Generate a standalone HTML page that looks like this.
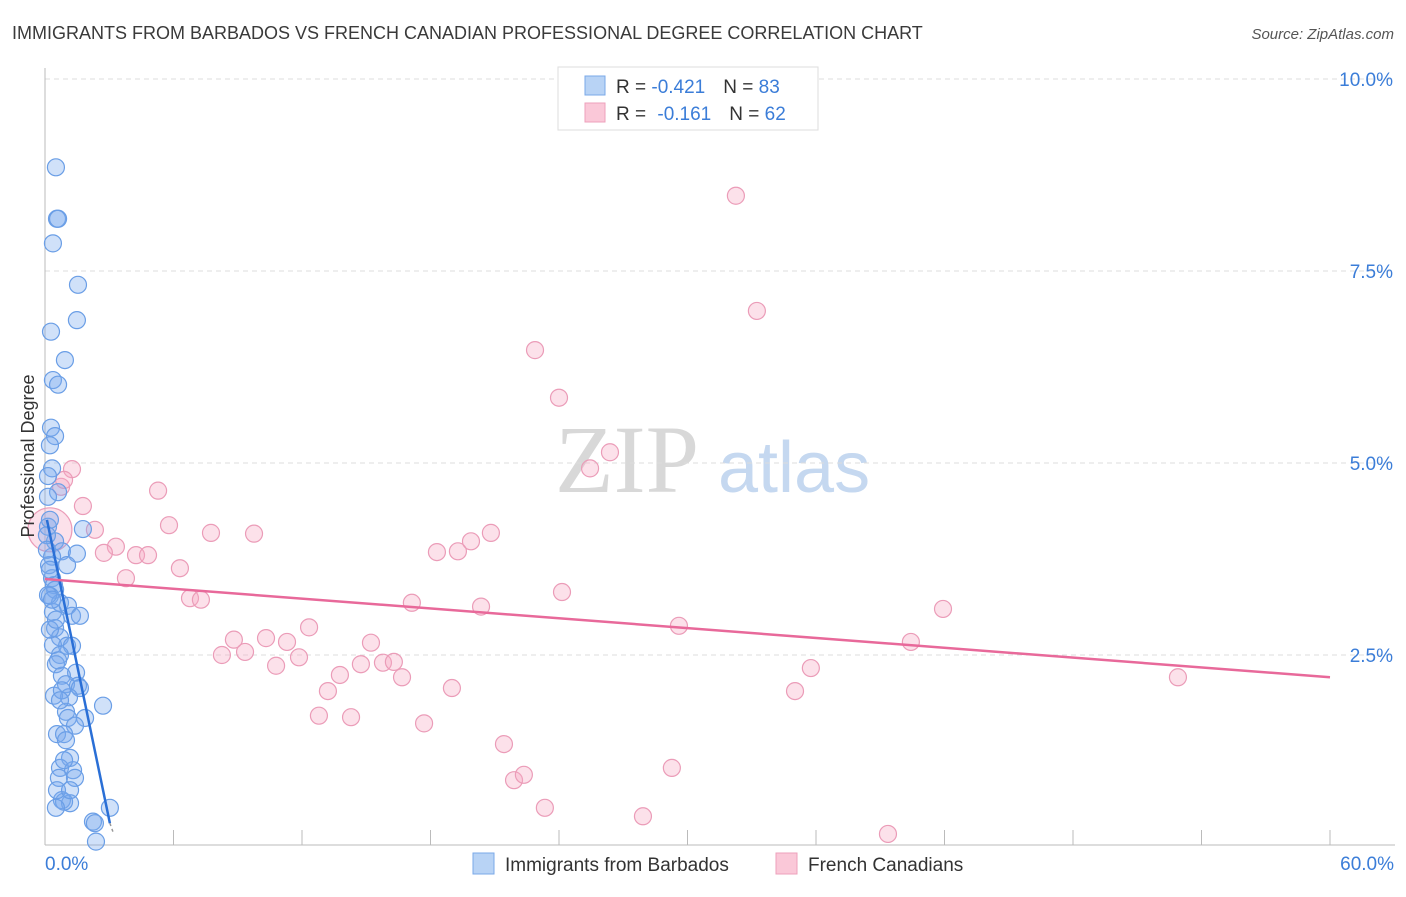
<!DOCTYPE html>
<html><head><meta charset="utf-8"><style>
body{margin:0;background:#fff;font-family:"Liberation Sans",sans-serif}
svg text{font-family:"Liberation Sans",sans-serif}
</style></head><body>
<svg id="chart" width="1406" height="892" viewBox="0 0 1406 892" xmlns="http://www.w3.org/2000/svg">
<text x="12" y="39" font-size="18" fill="#3a3a3a">IMMIGRANTS FROM BARBADOS VS FRENCH CANADIAN PROFESSIONAL DEGREE CORRELATION CHART</text>
<text x="1394" y="39" font-size="15" fill="#555" text-anchor="end" font-style="italic">Source: ZipAtlas.com</text>
<g>
<text x="555" y="492" font-size="96" fill="#d8d8d8" font-family="Liberation Serif" style="font-family:'Liberation Serif',serif">ZIP</text>
<text x="718" y="492" font-size="72" fill="#c5d8f0">atlas</text>
</g>
<g id="grid"></g>
<g id="axes"></g>
<g id="marks"></g>
<text transform="translate(34,456) rotate(-90)" font-size="18" fill="#333" text-anchor="middle">Professional Degree</text>
<g>
<rect x="558" y="67" width="260" height="63" fill="#fff" stroke="#ddd"/>
<rect x="585" y="76" width="20" height="19" fill="#b8d3f5" stroke="#7aa8e8"/>
<rect x="585" y="103" width="20" height="19" fill="#fac8d8" stroke="#eea0bb"/>
<text x="616" y="93" font-size="19" fill="#333">R = <tspan fill="#3b7dd8">-0.421</tspan><tspan dx="18">N = </tspan><tspan fill="#3b7dd8">83</tspan></text>
<text x="616" y="120" font-size="19" fill="#333">R = <tspan dx="6" fill="#3b7dd8">-0.161</tspan><tspan dx="18">N = </tspan><tspan fill="#3b7dd8">62</tspan></text>
</g>
<g>
<rect x="473" y="853" width="21" height="21" fill="#b8d3f5" stroke="#7aa8e8"/>
<text x="505" y="871" font-size="19" fill="#333">Immigrants from Barbados</text>
<rect x="776" y="853" width="21" height="21" fill="#fac8d8" stroke="#eea0bb"/>
<text x="808" y="871" font-size="19" fill="#333">French Canadians</text>
</g>
</svg>
<script>
const yTicks=[2.5,5.0,7.5,10.0];
const yTickLabels=["2.5%","5.0%","7.5%","10.0%"];
const xTicks=[0,6,12,18,24,30,36,42,48,54,60];
const xEndLabels=["0.0%","60.0%"];
const blueX=[0.51,0.56,0.61,0.37,1.54,1.49,0.28,0.93,0.37,0.61,0.28,0.47,0.23,0.33,0.14,0.61,0.14,1.77,0.14,0.47,0.79,1.49,0.33,0.19,1.03,0.33,0.42,0.47,0.23,0.70,1.07,0.37,1.26,1.63,0.47,0.70,1.03,0.37,1.26,0.70,0.51,1.45,0.79,0.98,1.54,1.63,1.12,0.42,2.71,0.98,1.07,1.87,1.40,0.56,0.89,1.17,0.70,1.31,0.65,1.40,0.79,1.17,0.89,0.51,3.03,2.24,2.33,2.38,0.14,0.33,0.23,0.09,0.09,0.23,0.61,0.79,0.23,0.51,0.70,0.98,0.89,0.56,1.17];
const blueY=[8.85,8.18,8.18,7.86,7.32,6.86,6.71,6.34,6.08,6.02,5.46,5.35,5.23,4.93,4.83,4.62,4.56,4.14,4.17,3.98,3.85,3.82,3.78,3.67,3.67,3.50,3.41,3.35,3.27,3.18,3.14,3.06,3.01,3.01,2.85,2.73,2.62,2.63,2.62,2.50,2.38,2.27,2.23,2.12,2.10,2.07,1.95,1.97,1.84,1.76,1.68,1.68,1.58,1.47,1.47,1.16,1.03,1.00,0.90,0.90,0.61,0.57,0.59,0.51,0.51,0.33,0.31,0.07,3.28,3.22,4.26,4.06,3.87,3.61,2.43,2.04,2.83,2.96,1.91,1.39,1.13,0.74,0.74];
const pinkX=[1.26,0.75,1.77,0.23,2.33,3.31,2.75,4.25,4.81,3.78,5.28,5.79,6.30,6.77,7.28,7.75,9.76,8.26,8.82,9.34,10.32,10.79,11.30,11.86,12.33,12.79,13.21,13.77,14.29,14.75,15.22,15.78,16.29,16.67,17.13,17.70,18.30,19.00,19.28,19.89,20.36,20.82,21.43,21.90,22.36,22.88,23.34,24.00,24.14,25.45,26.38,27.92,29.27,29.60,32.26,33.24,35.02,35.76,39.36,40.43,41.93,52.90,0.89];
const pinkY=[4.92,4.69,4.44,4.13,4.13,3.91,3.83,3.80,3.80,3.50,4.64,4.19,3.63,3.24,3.22,4.09,4.08,2.50,2.70,2.54,2.72,2.36,2.67,2.47,2.86,1.71,2.03,2.24,1.69,2.38,2.66,2.40,2.41,2.21,3.18,1.61,3.84,2.07,3.85,3.98,3.13,4.09,1.34,0.87,0.94,6.47,0.51,5.85,3.32,4.93,5.14,0.40,1.03,2.88,8.48,6.98,2.03,2.33,0.17,2.67,3.10,2.21,4.78];
const pinkBig=[3];
const blueLine=[0.09,4.26,3.03,0.31];
const blueDash=[3.03,0.31,3.17,0.20];
const pinkLine=[0,3.49,60,2.21];
const X0=45,X1=1330,Y0=847,PXY=76.8;
const sx=v=>X0+v/60*(X1-X0);
const sy=v=>Y0-v*PXY;
const NS="http://www.w3.org/2000/svg";
function mk(tag,attrs,parent){const e=document.createElementNS(NS,tag);for(const k in attrs)e.setAttribute(k,attrs[k]);parent.appendChild(e);return e;}
const grid=document.getElementById('grid'),axes=document.getElementById('axes'),marks=document.getElementById('marks');
yTicks.forEach((t,i)=>{
  const g=mk('line',{x1:45,x2:1395,y1:sy(t),y2:sy(t),stroke:'#ddd','stroke-dasharray':'5,4'},grid);
  
  
  const l=mk('text',{x:1393,y:sy(t)+7,'font-size':19,fill:'#3b7dd8','text-anchor':'end'},grid);
  l.textContent=yTickLabels[i];
  
  
});
const ya=mk('line',{x1:45,x2:45,y1:68,y2:845,stroke:'#bbb'},axes);


const xa=mk('line',{x1:45,x2:1395,y1:845,y2:845,stroke:'#bbb'},axes);


xTicks.forEach(t=>{
  const k=mk('line',{x1:sx(t),x2:sx(t),y1:830,y2:845,stroke:'#bbb'},axes);
  
  
});
const xl0=mk('text',{x:45,y:870,'font-size':19,fill:'#3b7dd8'},axes);xl0.textContent=xEndLabels[0];


const xl1=mk('text',{x:1394,y:870,'font-size':19,fill:'#3b7dd8','text-anchor':'end'},axes);xl1.textContent=xEndLabels[1];


pinkX.forEach((v,i)=>{
  const c=mk('circle',{cx:sx(v),cy:sy(pinkY[i]),r:pinkBig.includes(i)?22:8.5,fill:'rgba(246,168,195,0.35)',stroke:'#eb9cb8','stroke-width':1.2},marks);
  
  
});
blueX.forEach((v,i)=>{
  const c=mk('circle',{cx:sx(v),cy:sy(blueY[i]),r:8.5,fill:'rgba(120,168,238,0.35)',stroke:'#6a9ee6','stroke-width':1.2},marks);
  
  
});
const bl=mk('line',{x1:sx(blueLine[0]),y1:sy(blueLine[1]),x2:sx(blueLine[2]),y2:sy(blueLine[3]),stroke:'#2a6fd6','stroke-width':2.5},marks);


const bd=mk('line',{x1:sx(blueDash[0]),y1:sy(blueDash[1]),x2:sx(blueDash[2]),y2:sy(blueDash[3]),stroke:'#999','stroke-width':1.5,'stroke-dasharray':'3,3'},marks);


const pl=mk('line',{x1:sx(pinkLine[0]),y1:sy(pinkLine[1]),x2:sx(pinkLine[2]),y2:sy(pinkLine[3]),stroke:'#e8699a','stroke-width':2.5},marks);


</script>
</body></html>
